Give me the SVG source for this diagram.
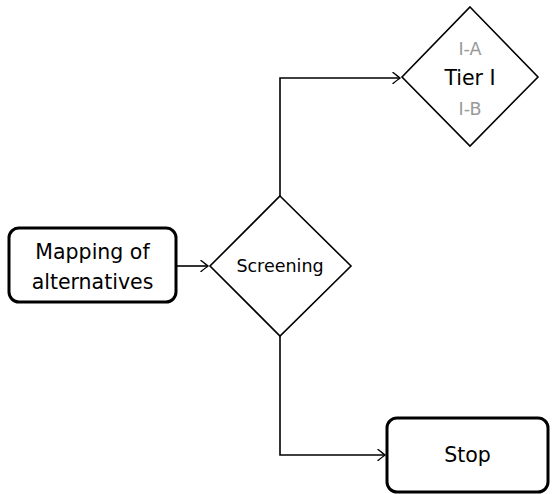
<svg xmlns="http://www.w3.org/2000/svg" width="552" height="494" viewBox="0 0 552 494">
  <style>
    .box { fill: #fff; stroke: #000; stroke-width: 3; }
    .dia { fill: #fff; stroke: #000; stroke-width: 1.6; }
    .edge { fill: none; stroke: #000; stroke-width: 1.6; marker-end: url(#tip); }
    text { font-family: "DejaVu Sans", "Liberation Sans", sans-serif; text-anchor: middle; fill: #000; }
    .big { font-size: 20.5px; }
    .mid { font-size: 17.5px; }
    .sub { font-size: 17.5px; fill: #999; }
  </style>
  <defs>
    <marker id="tip" viewBox="-8 -6 10 12" refX="0" refY="0" markerWidth="10" markerHeight="12" markerUnits="userSpaceOnUse" orient="auto">
      <path d="M -7,-5.5 Q -2,-1.5 0,0 Q -2,1.5 -7,5.5" fill="none" stroke="#000" stroke-width="1.4" stroke-linecap="round"/>
    </marker>
  </defs>

  <!-- connectors -->
  <g id="edges">
    <path class="edge" d="M 176,266 L 208,266"/>
    <path class="edge" d="M 280,196 L 280,78 L 400,78"/>
    <path class="edge" d="M 280,336 L 280,455 L 385,455"/>
  </g>

  <g id="mapping">
    <rect class="box" x="9" y="228" width="167" height="74" rx="10"/>
    <text class="big" x="92.5" y="259">Mapping of</text>
    <text class="big" x="92.5" y="289">alternatives</text>
  </g>

  <g id="screening">
    <polygon class="dia" points="280,196 351,266 280,336 210,266"/>
    <text class="mid" x="280" y="272">Screening</text>
  </g>

  <g id="tier1">
    <polygon class="dia" points="470,7 538,77 470,146 402,77"/>
    <text class="sub" x="470" y="55">I-A</text>
    <text class="big" x="470" y="85">Tier I</text>
    <text class="sub" x="470" y="115">I-B</text>
  </g>

  <g id="stop">
    <rect class="box" x="387" y="418" width="161" height="74" rx="10"/>
    <text class="big" x="467.5" y="462">Stop</text>
  </g>
</svg>
